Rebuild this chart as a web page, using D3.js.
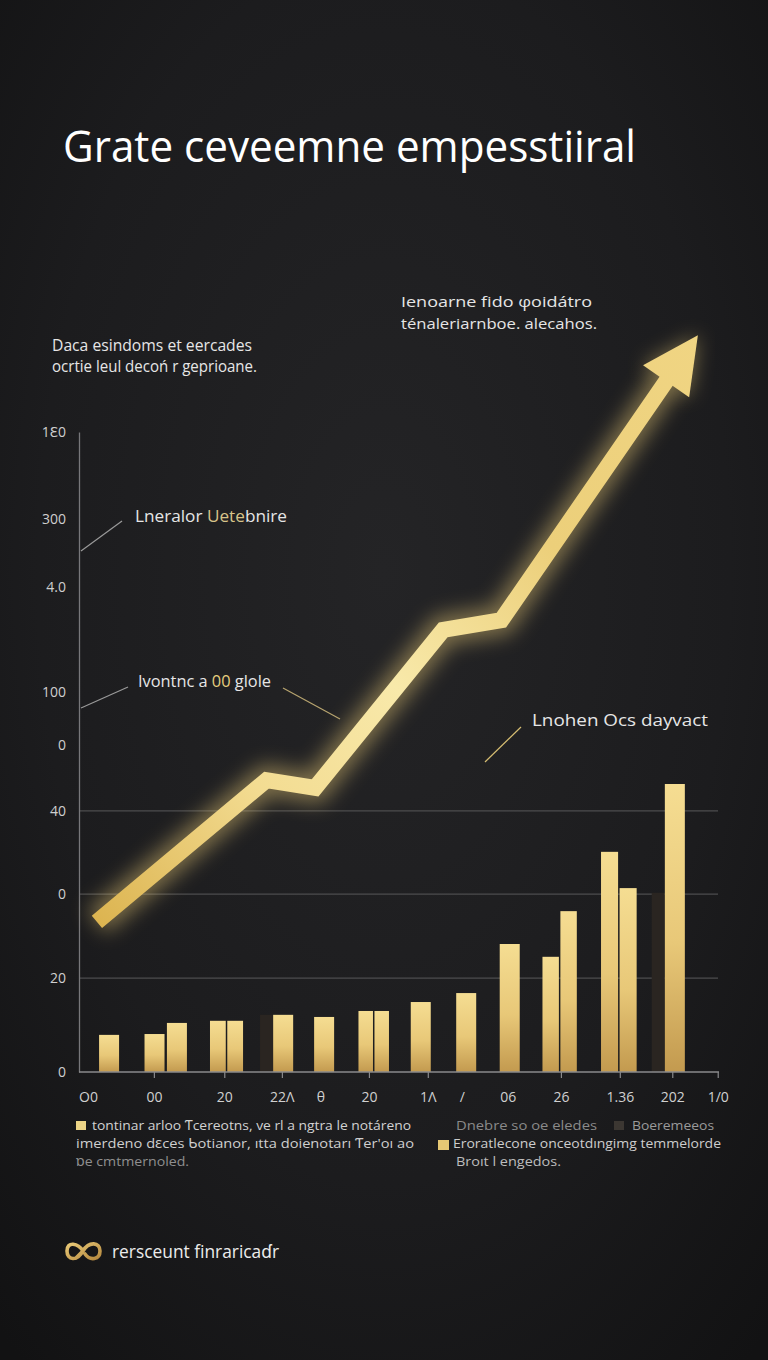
<!DOCTYPE html>
<html><head><meta charset="utf-8">
<script src="https://cdn.jsdelivr.net/npm/d3@7"></script>
<style>html,body{margin:0;padding:0;background:#1b1b1d;} svg{display:block}</style>
</head><body>
<svg id="c" width="768" height="1360"></svg>
<script>
// ---------- data ----------
const titleText = "Grate ceveemne empesstiiral";
const yTickValues = [0, 22, 41.7, 61.2, 76.6, 89.1, 113.7, 129.6, 150];
const yTickLabels = ["0", "20", "0", "40", "0", "100", "4.0", "300", "1Ɛ0"];
const gridValues = [22, 41.7, 61.2];
const xTickValues = [1.4, 11.7, 22.7, 31.7, 37.7, 45.3, 54.5, 59.8, 67.0, 75.3, 84.5, 92.7, 99.8];
const xTickLabels = ["O0", "00", "20", "22Ʌ", "θ", "20", "1Ʌ", "/", "06", "26", "1.36", "202", "1/0"];
const goldBarX = [4.7, 11.8, 15.3, 21.7, 24.4, 31.9, 38.3, 44.8, 47.3, 53.4, 60.5, 67.3, 73.7, 76.5, 82.9, 85.8, 93.1];
const goldBarValues = [8.7, 8.9, 11.5, 12, 12, 13.4, 12.9, 14.3, 14.3, 16.4, 18.5, 30, 27, 37.7, 51.6, 43.1, 67.5];
const darkBarX = [29.3, 90.5];
const darkBarValues = [13.4, 42];
const lineX = [2.8, 29.3, 36.9, 56.9, 66.0, 96.7];
const lineValues = [35.2, 68.4, 66.6, 103.6, 105.9, 172.7];

// ---------- setup ----------
const svg = d3.select("#c");
const defs = svg.append("defs");
const FONT = "'Open Sans', 'Noto Sans', sans-serif";

const bg = defs.append("radialGradient").attr("id", "bg")
  .attr("cx", "50%").attr("cy", "42%").attr("r", "75%");
bg.append("stop").attr("offset", "0%").attr("stop-color", "#242426");
bg.append("stop").attr("offset", "60%").attr("stop-color", "#1c1c1e");
bg.append("stop").attr("offset", "100%").attr("stop-color", "#121213");
svg.append("rect").attr("width", 768).attr("height", 1360).attr("fill", "url(#bg)");

const x = d3.scaleLinear().domain([0, 100]).range([79, 719]);
const y = d3.scaleLinear().domain([0, 150]).range([1072, 432]);

const barGrad = defs.append("linearGradient").attr("id", "barG")
  .attr("x1", 0).attr("y1", 0).attr("x2", 0).attr("y2", 1);
barGrad.append("stop").attr("offset", "0%").attr("stop-color", "#f5dd92");
barGrad.append("stop").attr("offset", "55%").attr("stop-color", "#e8c878");
barGrad.append("stop").attr("offset", "100%").attr("stop-color", "#c39a4f");

const lineGrad = defs.append("linearGradient").attr("id", "lineG")
  .attr("gradientUnits", "userSpaceOnUse")
  .attr("x1", x(lineX[0])).attr("y1", y(lineValues[0]))
  .attr("x2", x(lineX[lineX.length - 1])).attr("y2", y(lineValues[lineValues.length - 1]));
[["0%", "#dcb450"], ["25%", "#f3dc92"], ["45%", "#f8e9aa"], ["70%", "#eccf7a"], ["100%", "#f0d583"]]
  .forEach(s => lineGrad.append("stop").attr("offset", s[0]).attr("stop-color", s[1]));

const glow = defs.append("filter").attr("id", "glow")
  .attr("x", "-30%").attr("y", "-30%").attr("width", "160%").attr("height", "160%");
glow.append("feGaussianBlur").attr("stdDeviation", 10);

// ---------- title ----------
svg.append("text").attr("x", 63).attr("y", 162).text(titleText)
  .attr("font-family", FONT).attr("font-size", 44).attr("fill", "#ffffff")
  .attr("textLength", 573).attr("lengthAdjust", "spacingAndGlyphs");

function txt(g, xx, yy, parts, size, len, fill) {
  const t = g.append("text").attr("x", xx).attr("y", yy)
    .attr("font-family", FONT).attr("font-size", size).attr("fill", fill || "#e6e6e6");
  if (len) t.attr("textLength", len).attr("lengthAdjust", "spacingAndGlyphs");
  (Array.isArray(parts) ? parts : [[parts]]).forEach(p => {
    t.append("tspan").text(p[0]).attr("fill", p[1] || null);
  });
  return t;
}

// ---------- grid & axes ----------
const gGrid = svg.append("g");
gGrid.selectAll("line").data(gridValues).join("line")
  .attr("x1", 79).attr("x2", 718)
  .attr("y1", d => y(d)).attr("y2", d => y(d))
  .attr("stroke", "#4c4c4e").attr("stroke-width", 1.2);

const yAxis = d3.axisLeft(y).tickValues(yTickValues)
  .tickFormat((d, i) => yTickLabels[i]).tickSize(0).tickPadding(13);
const gy = svg.append("g").attr("transform", "translate(79,0)").call(yAxis);
gy.select(".domain").attr("stroke", "#77777a").attr("stroke-width", 1.3);
gy.selectAll("text").attr("font-family", FONT).attr("font-size", 14).attr("fill", "#cfcfcf");

// ---------- bars ----------
const darkData = darkBarX.map((v, i) => ({ x: v, v: darkBarValues[i] }));
svg.append("g").selectAll("rect").data(darkData).join("rect")
  .attr("x", d => x(d.x) - 6.5).attr("width", 13)
  .attr("y", d => y(d.v)).attr("height", d => y(0) - y(d.v))
  .attr("fill", "#2a2521");

const goldData = goldBarX.map((v, i) => ({ x: v, v: goldBarValues[i] }));
goldData.forEach((d, i) => {
  const cx = x(d.x);
  let m = 100;
  if (i > 0) m = Math.min(m, cx - x(goldData[i - 1].x));
  if (i < goldData.length - 1) m = Math.min(m, x(goldData[i + 1].x) - cx);
  d.w = Math.min(20, m - 1.5);
});
svg.append("g").selectAll("rect").data(goldData).join("rect")
  .attr("x", d => x(d.x) - d.w / 2).attr("width", d => d.w)
  .attr("y", d => y(d.v)).attr("height", d => y(0) - y(d.v))
  .attr("fill", "url(#barG)");

// x axis
const xAxis = d3.axisBottom(x).tickValues(xTickValues)
  .tickFormat((d, i) => xTickLabels[i]).tickSize(6).tickPadding(14).tickSizeOuter(0);
const gx = svg.append("g").attr("transform", "translate(0,1072)").call(xAxis);
gx.select(".domain").attr("stroke", "#8a8a8c").attr("stroke-width", 1.5).attr("d", "M79,0H719");
gx.selectAll(".tick line").attr("stroke", "#8a8a8c").attr("stroke-width", 1.2)
  .attr("opacity", (d, i) => (i === 0 || i === 4 || i === 7 || i === 8) ? 0 : 1);
gx.selectAll("text").attr("font-family", FONT).attr("font-size", 14).attr("fill", "#d0d0d0");

// ---------- trend line with arrow ----------
const pts = lineX.map((v, i) => [x(v), y(lineValues[i])]);
const tip = pts[pts.length - 1];
const prev = pts[pts.length - 2];
const dx = tip[0] - prev[0], dy = tip[1] - prev[1];
const len = Math.hypot(dx, dy);
const ux = dx / len, uy = dy / len;
const headL = 56, headW = 28;
const base = [tip[0] - ux * headL, tip[1] - uy * headL];
const shaftEnd = [tip[0] - ux * (headL - 4), tip[1] - uy * (headL - 4)];
const shaft = pts.slice(0, -1).concat([shaftEnd]);
const head = [tip, [base[0] - uy * headW, base[1] + ux * headW], [base[0] + uy * headW, base[1] - ux * headW]];

const lineGen = d3.line();
const gl = svg.append("g");
gl.append("path").attr("d", lineGen(shaft)).attr("fill", "none")
  .attr("stroke", "#f2d27a").attr("stroke-width", 30).attr("opacity", 0.45)
  .attr("stroke-linejoin", "miter").attr("filter", "url(#glow)");
gl.append("path").attr("d", lineGen(head) + "Z").attr("fill", "#f2d27a")
  .attr("opacity", 0.45).attr("filter", "url(#glow)");
gl.append("path").attr("d", lineGen(shaft)).attr("fill", "none")
  .attr("stroke", "url(#lineG)").attr("stroke-width", 16)
  .attr("stroke-linejoin", "miter").attr("stroke-linecap", "butt");
gl.append("path").attr("d", lineGen(head) + "Z").attr("fill", "url(#lineG)");

// ---------- annotations ----------
const ga = svg.append("g");
txt(ga, 52, 351, "Daca esindoms et eercades", 16, 200);
txt(ga, 52, 372, "ocrtie leul decoń r geprioane.", 16, 205);
txt(ga, 401, 307, "Ienoarne fido φoidátro", 15, 191);
txt(ga, 401, 329, "ténaleriarnboe. alecahos.", 15, 196);

txt(ga, 135, 522, [["Lneralor "], ["Uete", "#d8c48a"], ["bnire"]], 16, 152);
txt(ga, 138, 687, [["Ivontnc a "], ["00", "#e6cf7e"], [" glole"]], 16, 133);
txt(ga, 532, 726, "Lnohen Ocs dayvact", 17, 176);

const leaders = [
  [[81, 551], [122, 521], "#9a9a9a"],
  [[81, 708], [128, 687], "#9a9a9a"],
  [[283, 688], [340, 719], "#b7a46f"],
  [[485, 762], [521, 727], "#d6bd72"]
];
ga.selectAll("line.ld").data(leaders).join("line").attr("class", "ld")
  .attr("x1", d => d[0][0]).attr("y1", d => d[0][1])
  .attr("x2", d => d[1][0]).attr("y2", d => d[1][1])
  .attr("stroke", d => d[2]).attr("stroke-width", 1.2);

// ---------- legend ----------
const lg = svg.append("g");
lg.append("rect").attr("x", 76).attr("y", 1121).attr("width", 10).attr("height", 9).attr("fill", "#ecd486");
txt(lg, 92, 1130, "tontinar arloo Ƭcereotns, ve rl a ngtra le notáreno", 13.5, 319, "#d2d2d2");
txt(lg, 76, 1148, "imerdeno dɛces Ƅotianor, ıtta doienotarı Ƭer'oı ao", 13.5, 338, "#cfcfcf");
txt(lg, 76, 1166, "ɒe cmtmernoled.", 13.5, 113, "#8f8f8f");
txt(lg, 456, 1130, "Dnebre so oe eledes", 13.5, 141, "#8a8a8a");
lg.append("rect").attr("x", 614).attr("y", 1121).attr("width", 10).attr("height", 9).attr("fill", "#3c3732");
txt(lg, 632, 1130, "Boeremeeos", 13.5, 82, "#9a9a9a");
lg.append("rect").attr("x", 438).attr("y", 1140).attr("width", 11).attr("height", 10).attr("fill", "#e6c874");
txt(lg, 453, 1148, "Eroratlecone onceotdıngimg temmelorde", 13.5, 268, "#cdcdcd");
txt(lg, 456, 1166, "Broıt l engedos.", 13.5, 105, "#bdbdbd");

// ---------- footer ----------
const fg = svg.append("g");
const logoGrad = defs.append("linearGradient").attr("id", "logoG")
  .attr("x1", 0).attr("y1", 0).attr("x2", 1).attr("y2", 1);
logoGrad.append("stop").attr("offset", "0%").attr("stop-color", "#e9c977");
logoGrad.append("stop").attr("offset", "100%").attr("stop-color", "#b5893f");
fg.append("path")
  .attr("d", "M83,1251 C78,1243 67,1241 67,1251 C67,1260 77,1262 83,1251 C89,1241 100,1242 100,1251 C100,1260 90,1261 85,1254 M76,1258 L83,1251")
  .attr("fill", "none").attr("stroke", "url(#logoG)").attr("stroke-width", 3.6)
  .attr("stroke-linecap", "round");
txt(fg, 112, 1258, "rersceunt finraricaɗr", 18, 167, "#ececec");
</script>
</body></html>
